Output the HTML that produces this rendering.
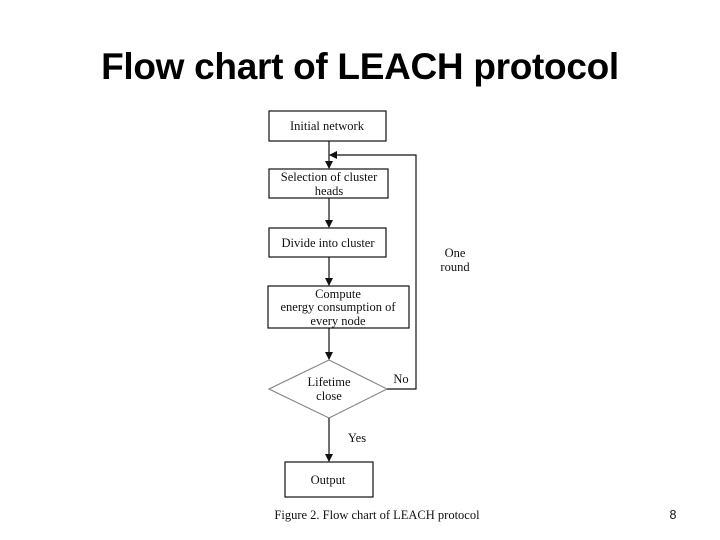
<!DOCTYPE html>
<html><head><style>
body{margin:0;width:720px;height:540px;background:#fff;overflow:hidden;position:relative;font-family:"Liberation Sans",sans-serif}
.t{position:absolute;left:0;width:720px;top:46px;text-align:center;font-size:37px;font-weight:bold;color:#000;letter-spacing:-0.3px}
svg{position:absolute;left:0;top:0}
svg text{font-family:"Liberation Serif",serif;font-size:12.5px;fill:#111}
</style></head><body>
<div class="t">Flow chart of LEACH protocol</div>
<svg width="720" height="540">
<defs><marker id="a" markerWidth="8" markerHeight="8" refX="7" refY="4" orient="auto" markerUnits="userSpaceOnUse"><path d="M0,0 L8,4 L0,8 Z" fill="#111"/></marker></defs>
<g stroke="#111" stroke-width="1.2" fill="none">
<rect x="269" y="111" width="117" height="30"/>
<rect x="269" y="169" width="119" height="29"/>
<rect x="269" y="228" width="117" height="29"/>
<rect x="268" y="286" width="141" height="42"/>
<polygon points="329,360 387,389 329,418 269,389" stroke="#888"/>
<rect x="285" y="462" width="88" height="35"/>
<line x1="329" y1="141" x2="329" y2="168" marker-end="url(#a)"/>
<line x1="329" y1="198" x2="329" y2="227" marker-end="url(#a)"/>
<line x1="329" y1="257" x2="329" y2="285" marker-end="url(#a)"/>
<line x1="329" y1="328" x2="329" y2="359" marker-end="url(#a)"/>
<line x1="329" y1="418" x2="329" y2="461" marker-end="url(#a)"/>
<polyline points="387,389 416,389 416,155 330,155" marker-end="url(#a)"/>
</g>
<text x="327" y="130" text-anchor="middle">Initial network</text>
<text x="329" y="181" text-anchor="middle">Selection of cluster</text>
<text x="329" y="195" text-anchor="middle" font-size="11">heads</text>
<text x="328" y="247" text-anchor="middle">Divide into cluster</text>
<text x="338" y="298" text-anchor="middle">Compute</text>
<text x="338" y="311" text-anchor="middle">energy consumption of</text>
<text x="338" y="325" text-anchor="middle">every node</text>
<text x="329" y="386" text-anchor="middle">Lifetime</text>
<text x="329" y="400" text-anchor="middle">close</text>
<text x="401" y="383" text-anchor="middle">No</text>
<text x="357" y="442" text-anchor="middle">Yes</text>
<text x="455" y="257" text-anchor="middle">One</text>
<text x="455" y="271" text-anchor="middle">round</text>
<text x="328" y="484" text-anchor="middle">Output</text>
<text x="377" y="519" text-anchor="middle" font-size="15">Figure  2. Flow chart of LEACH protocol</text>
<text x="673" y="519" text-anchor="middle" font-size="10" fill="#777" style="font-family:'Liberation Sans',sans-serif">8</text>
</svg>
</body></html>
